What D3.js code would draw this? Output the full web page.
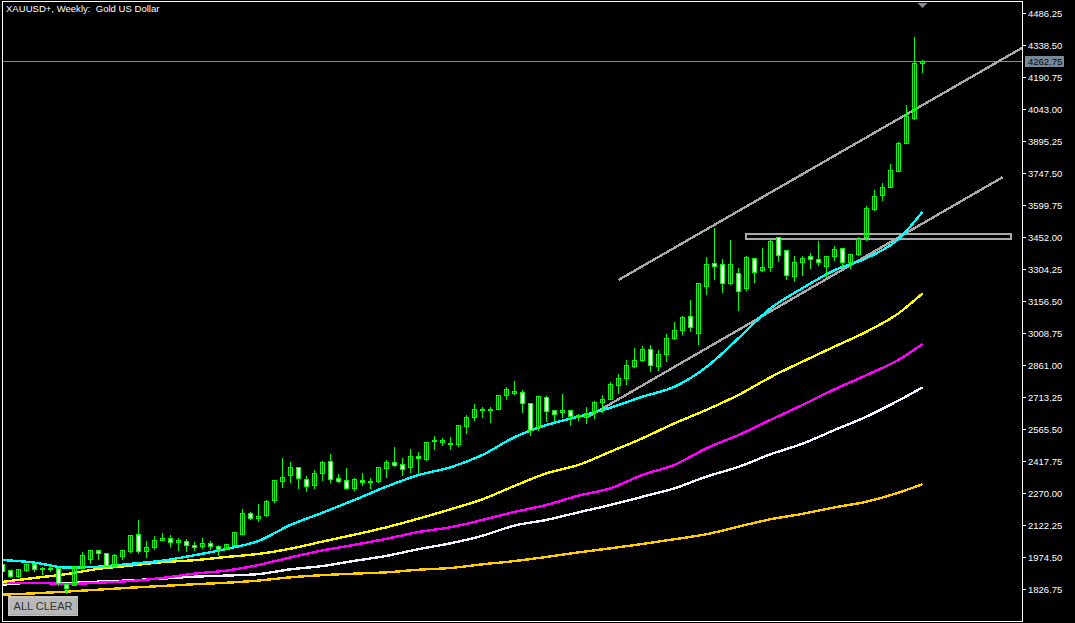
<!DOCTYPE html>
<html><head><meta charset="utf-8">
<script src="https://cdn.jsdelivr.net/npm/d3@7/dist/d3.min.js"></script>
<style>html,body{margin:0;padding:0;background:#000;overflow:hidden}svg{display:block}</style>
</head><body><svg id="c" width="1075" height="623"></svg>
<script>
const title = "XAUUSD+, Weekly:\u00a0\u00a0Gold US Dollar";
const buttonLabel = "ALL CLEAR";
const lastPrice = 4262.75;
const tickValues = [4486.25,4338.50,4190.75,4043.00,3895.25,3747.50,3599.75,3452.00,3304.25,3156.50,3008.75,2861.00,2713.25,2565.50,2417.75,2270.00,2122.25,1974.50,1826.75];

const opens = [1943,1915,1889,1914,1943,1918,1922,1925,1851,1845,
1925,1965,2005,1994,1935,1977,2002,2079,2002,2019,
2052,2063,2045,2049,2031,2023,2040,2026,2017,2032,
2080,2177,2155,2168,2237,2325,2352,2391,2334,2306,
2362,2419,2340,2331,2292,2331,2322,2325,2385,2414,
2405,2389,2443,2429,2509,2506,2497,2496,2579,2620,
2653,2656,2657,2722,2733,2737,2686,2573,2714,2654,
2643,2654,2622,2622,2643,2690,2703,2770,2802,2856,
2883,2936,2856,2913,2985,3022,3088,3010,3227,3333,
3328,3240,3287,3217,3356,3299,3313,3450,3393,3271,
3336,3365,3351,3317,3364,3402,3336,3373,3453,3581,
3645,3685,3759,3888,4001,4256];
const closes = [1912,1889,1917,1943,1917,1925,1926,1855,1831,1932,
1982,2009,1992,1935,1982,2005,2074,2002,2022,2055,
2063,2043,2051,2029,2022,2040,2026,2012,2035,2088,
2179,2155,2165,2234,2331,2345,2391,2340,2303,2363,
2414,2334,2325,2292,2336,2320,2326,2391,2414,2399,
2383,2442,2431,2506,2513,2513,2503,2582,2622,2659,
2659,2660,2723,2748,2739,2686,2560,2720,2649,2634,
2651,2626,2628,2640,2691,2703,2774,2802,2862,2885,
2936,2862,2913,2987,3023,3083,3037,3240,3328,3319,
3240,3328,3204,3361,3290,3313,3434,3370,3276,3337,
3356,3350,3336,3365,3397,3336,3374,3445,3587,3641,
3684,3762,3887,4012,4256,4262.75];
const highs = [1948,1920,1926,1948,1948,1935,1940,1928,1855,1935,
2002,2012,2009,1997,1994,2012,2079,2148,2051,2074,
2091,2083,2066,2060,2048,2069,2052,2035,2040,2092,
2199,2189,2226,2240,2332,2434,2420,2393,2351,2382,
2423,2453,2363,2392,2345,2369,2342,2396,2428,2485,
2434,2480,2462,2511,2536,2529,2531,2586,2633,2686,
2674,2674,2725,2762,2794,2751,2688,2722,2723,2659,
2730,2660,2640,2670,2700,2728,2788,2822,2890,2945,
2954,2959,2933,3007,3062,3090,3167,3245,3364,3499,
3357,3441,3314,3367,3361,3408,3447,3456,3397,3367,
3370,3381,3439,3367,3413,3408,3379,3456,3602,3674,
3708,3795,3896,4064,4382,4275];
const lows = [1909,1883,1883,1912,1911,1898,1912,1843,1806,1843,
1923,1949,1966,1932,1932,1963,1999,1991,1974,2012,
2052,2025,2009,2002,2009,2017,2012,1982,2012,2029,
2079,2148,2143,2165,2228,2300,2323,2291,2277,2291,
2329,2323,2320,2288,2286,2305,2291,2322,2346,2394,
2351,2369,2363,2422,2471,2493,2471,2486,2545,2609,
2622,2600,2656,2706,2728,2642,2536,2560,2603,2609,
2622,2582,2605,2594,2616,2646,2702,2730,2771,2853,
2879,2831,2840,2879,2979,3002,3017,2956,3191,3260,
3200,3237,3117,3205,3244,3296,3294,3339,3256,3247,
3277,3307,3322,3267,3344,3319,3310,3371,3437,3576,
3625,3682,3756,3885,3999,4216];

const maIndex = [0,4,8,12,16,20,24,28,32,36,40,44,48,52,56,60,64,68,72,76,80,84,88,92,96,100,104,108,112,115];
const maCyan = [1963,1951,1928,1932,1945,1960,1985,2014,2051,2125,2181,2240,2302,2355,2391,2448,2530,2586,2625,2666,2717,2763,2854,2987,3125,3218,3301,3357,3445,3571];
const maYellow = [1862,1880,1898,1922,1937,1953,1962,1977,1991,2015,2048,2080,2114,2154,2197,2243,2305,2363,2402,2463,2525,2594,2656,2725,2807,2879,2948,3017,3102,3194];
const maMagenta = [1858,1858,1852,1858,1866,1880,1900,1914,1940,1975,2007,2033,2061,2092,2114,2148,2185,2217,2260,2294,2356,2402,2479,2540,2610,2679,2751,2817,2887,2960];
const maWhite = [1849,1858,1857,1863,1869,1877,1886,1891,1898,1920,1935,1959,1982,2013,2040,2075,2122,2148,2183,2217,2255,2294,2348,2393,2451,2500,2563,2625,2699,2760];
const maOrange = [1803,1809,1817,1826,1835,1843,1851,1858,1868,1883,1893,1900,1906,1918,1926,1943,1958,1977,1998,2017,2037,2059,2082,2117,2151,2176,2206,2232,2274,2313];
const maSeries = [
  {values: maOrange, color: "#FFCC00"},
  {values: maWhite, color: "#F0F0FF"},
  {values: maMagenta, color: "#FF00FF"},
  {values: maYellow, color: "#FFFF00"},
  {values: maCyan, color: "#00FFFF"}
];

// Trend lines and zone, as [bar index, price]
const upperChannel = [[77,3256],[127.56,4330]];
const midChannel = [[73.1,2622],[125,3730]];
const zone = {i0:92.9, i1:126.06, top:3468, bottom:3447};

const svg = d3.select("#c");
const x = d3.scaleLinear().domain([0,115]).range([2.5,922.5]);
const y = d3.scaleLinear().domain([1826.75,4486.25]).range([589.5,13.5]);
const snap = v => Math.floor(v)+0.5;
const FONT = '"Liberation Sans", Arial, sans-serif';

svg.append("defs").append("clipPath").attr("id","plot").append("rect")
  .attr("x",2).attr("y",1).attr("width",1021).attr("height",621);

const plot = svg.append("g").attr("clip-path","url(#plot)");

// current-price line
plot.append("line").attr("x1",2).attr("x2",1023)
  .attr("y1",snap(y(lastPrice))).attr("y2",snap(y(lastPrice)))
  .attr("stroke","#808a94").attr("stroke-width",1).attr("shape-rendering","crispEdges");

// trend lines
const lineGen = d3.line().x(d=>x(d[0])).y(d=>y(d[1]));
[upperChannel,midChannel].forEach(p=>{
  plot.append("path").attr("d",lineGen(p)).attr("fill","none")
    .attr("stroke","#A9A9A9").attr("stroke-width",2.4).attr("shape-rendering","crispEdges");
});
// zone rectangle
plot.append("rect")
  .attr("x",x(zone.i0)).attr("width",x(zone.i1)-x(zone.i0))
  .attr("y",y(zone.top)).attr("height",y(zone.bottom)-y(zone.top))
  .attr("fill","none").attr("stroke","#A9A9A9").attr("stroke-width",2).attr("shape-rendering","crispEdges");

// moving averages
const maLine = d3.line().curve(d3.curveMonotoneX).x((d,i)=>x(maIndex[i])).y(d=>y(d));
plot.selectAll("path.ma").data(maSeries).join("path").attr("class","ma")
  .attr("d",d=>maLine(d.values)).attr("fill","none")
  .attr("stroke",d=>d.color).attr("stroke-width",2.4).attr("shape-rendering","crispEdges");

// candles
const idx = d3.range(opens.length);
const candle = plot.selectAll("g.candle").data(idx).join("g").attr("class","candle").attr("shape-rendering","crispEdges");
candle.append("line").attr("x1",i=>x(i)).attr("x2",i=>x(i))
  .attr("y1",i=>snap(y(highs[i]))).attr("y2",i=>snap(y(lows[i])))
  .attr("stroke","#00FF00").attr("stroke-width",1);
candle.append("rect").attr("x",i=>x(i)-2).attr("width",4)
  .attr("y",i=>snap(y(Math.max(opens[i],closes[i]))))
  .attr("height",i=>Math.max(1,snap(y(Math.min(opens[i],closes[i])))-snap(y(Math.max(opens[i],closes[i])))))
  .attr("fill",i=>closes[i]<opens[i]?"#FFFFFF":"none")
  .attr("stroke","#00FF00").attr("stroke-width",1);

// frame
svg.append("rect").attr("x",2.5).attr("y",1.5).attr("width",1020).attr("height",620)
  .attr("fill","none").attr("stroke","#fff").attr("stroke-width",1).attr("shape-rendering","crispEdges");

// price axis
const axis = d3.axisRight(y).tickValues(tickValues).tickFormat(d3.format(".2f")).tickSize(3).tickPadding(2).offset(0);
const ag = svg.append("g").attr("transform","translate(1023,0)").call(axis);
ag.select(".domain").remove();
ag.selectAll("line").attr("stroke","#fff").attr("shape-rendering","crispEdges");
ag.selectAll("text").attr("fill","#fff").attr("font-family",FONT).attr("font-size",9.5);

// last price tag
svg.append("rect").attr("x",1025).attr("y",56).attr("width",39).attr("height",11).attr("fill","#778899");
svg.append("text").attr("x",1028).attr("y",y(lastPrice)+0.5).attr("dy",".32em")
  .attr("fill","#0a0a0a").attr("font-family",FONT).attr("font-size",9.5).text(d3.format(".2f")(lastPrice));

// position marker
const mx = x(115);
svg.append("path").attr("d",`M${mx-5},3H${mx+5}L${mx},8Z`).attr("fill","#7f8c99");

// title
svg.append("text").attr("x",6).attr("y",9).attr("dy",".34em").attr("fill","#fff")
  .attr("font-family",FONT).attr("font-size",9.55).text(title);

// button
const btn = svg.append("g").attr("shape-rendering","crispEdges");
btn.append("rect").attr("x",8).attr("y",596).attr("width",70).attr("height",20).attr("fill","#c4c4c4");
btn.append("rect").attr("x",10).attr("y",598).attr("width",67).attr("height",17).attr("fill","#a8a8a8");
btn.append("rect").attr("x",10).attr("y",598).attr("width",66).attr("height",16).attr("fill","#b8b8b8");
svg.append("text").attr("x",43).attr("y",606).attr("dy",".36em").attr("text-anchor","middle")
  .attr("fill","#333").attr("font-family",FONT).attr("font-size",11).text(buttonLabel);
</script></body></html>
